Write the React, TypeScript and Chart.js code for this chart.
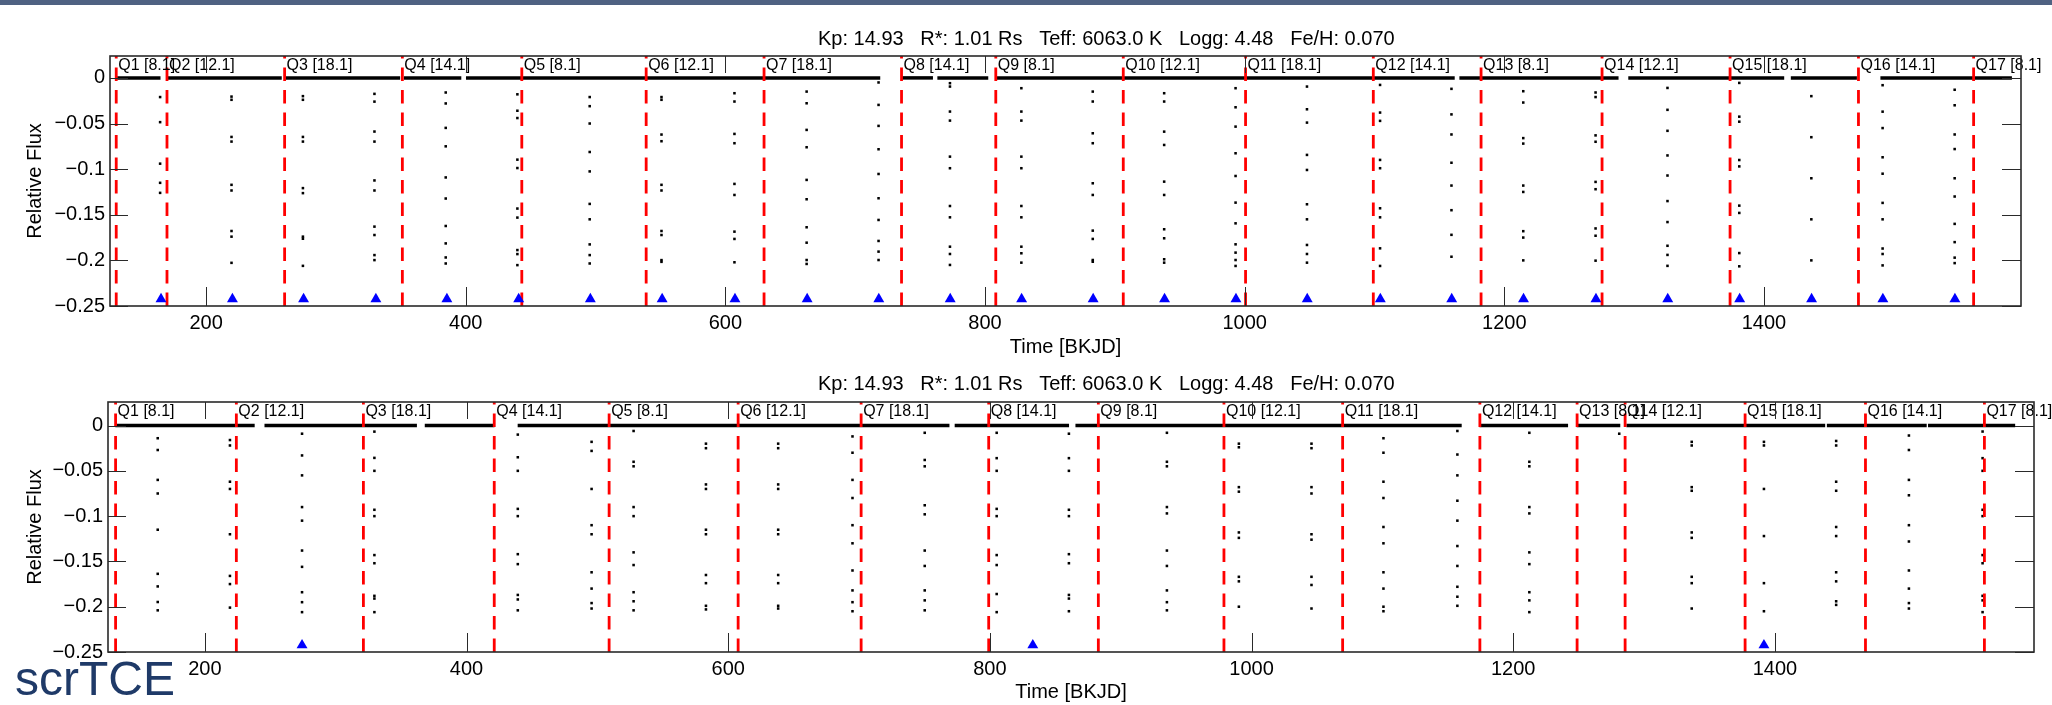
import React, { useEffect, useRef } from 'react';
import { Chart, registerables } from 'chart.js';

Chart.register(...registerables);

// ---------- shared axis data ----------
const X_MIN = 126;
const X_MAX = 1598;
const Y_MIN = -0.25;
const TOP_Y_MAX = 0.024;
const BOTTOM_Y_MAX = 0.026;
const X_TICKS = [200, 400, 600, 800, 1000, 1200, 1400];
const Y_TICKS = [-0.25, -0.2, -0.15, -0.1, -0.05, 0];
const BASELINE_FLUX = 0;
const TRIANGLE_LEVEL = -0.2425;
const TITLE_TEXT = 'Kp: 14.93   R*: 1.01 Rs   Teff: 6063.0 K   Logg: 4.48   Fe/H: 0.070';
const X_TITLE = 'Time [BKJD]';
const Y_TITLE = 'Relative Flux';

const QUARTER_LABELS = [
  'Q1 [8.1]', 'Q2 [12.1]', 'Q3 [18.1]', 'Q4 [14.1]', 'Q5 [8.1]', 'Q6 [12.1]',
  'Q7 [18.1]', 'Q8 [14.1]', 'Q9 [8.1]', 'Q10 [12.1]', 'Q11 [18.1]', 'Q12 [14.1]',
  'Q13 [8.1]', 'Q14 [12.1]', 'Q15 [18.1]', 'Q16 [14.1]', 'Q17 [8.1]',
];

// ---------- top panel data ----------
const TOP_QUARTER_STARTS = [130.8, 169.9, 260.5, 351.2, 443.2, 539.0, 629.8, 735.7, 808.3, 906.5, 1000.7, 1099.1, 1182.1, 1275.3, 1373.9, 1472.8, 1561.5];
const TOP_SEGMENTS = [
  [131.5, 164.9], [169.8, 258.3], [260.3, 349.5], [352.4, 396.6], [400.2, 719.3],
  [735.5, 759.9], [763.3, 802.5], [808.6, 1161.8], [1165.4, 1288.0], [1295.5, 1415.6],
  [1420.7, 1471.6], [1489.7, 1591.0],
];
const TOP_TRIANGLE_TIMES = [165.3, 220.3, 275.1, 330.8, 385.5, 440.8, 496.0, 551.3, 607.4, 663.0, 718.2, 773.2, 828.2, 883.3, 938.3, 993.3, 1048.2, 1104.5, 1159.5, 1214.8, 1270.6, 1325.9, 1381.3, 1436.7, 1491.6, 1547.1];
const TOP_TRANSIT_TIMES = [164.6, 219.6, 274.6, 329.7, 384.6, 439.8, 495.5, 550.8, 607.0, 662.6, 718.0, 773.0, 828.0, 883.0, 938.0, 993.0, 1048.0, 1104.3, 1159.3, 1214.6, 1270.3, 1325.7, 1381.0, 1436.5, 1491.4, 1546.9];
const TOP_TRANSIT_DEPTHS = [
  [-0.021, -0.0485, -0.094, -0.115, -0.126],
  [-0.0205, -0.024, -0.0647, -0.0698, -0.1172, -0.1234, -0.1678, -0.174, -0.2027],
  [-0.02, -0.024, -0.0647, -0.0698, -0.1208, -0.1263, -0.174, -0.1763, -0.206],
  [-0.0175, -0.026, -0.0588, -0.0698, -0.1124, -0.1234, -0.163, -0.1722, -0.1942, -0.1997],
  [-0.016, -0.028, -0.0548, -0.075, -0.1091, -0.1322, -0.1623, -0.1814, -0.1968, -0.2034],
  [-0.018, -0.036, -0.044, -0.0896, -0.0988, -0.1432, -0.1531, -0.1887, -0.1931, -0.2052],
  [-0.021, -0.031, -0.05, -0.0812, -0.1025, -0.1381, -0.155, -0.1825, -0.1942, -0.2034],
  [-0.021, -0.024, -0.0621, -0.0694, -0.1172, -0.1234, -0.1678, -0.1722, -0.1997, -0.2016],
  [-0.0168, -0.0259, -0.0614, -0.0716, -0.1162, -0.1283, -0.1685, -0.1765, -0.2021],
  [-0.015, -0.0278, -0.057, -0.076, -0.1118, -0.133, -0.1637, -0.1806, -0.1996, -0.2039],
  [-0.005, -0.0296, -0.0526, -0.0782, -0.1053, -0.1319, -0.1557, -0.1787, -0.1904, -0.1996],
  [-0.0058, -0.0095, -0.0369, -0.0468, -0.0863, -0.099, -0.1404, -0.1528, -0.185, -0.193, -0.205],
  [-0.0113, -0.0369, -0.0468, -0.0863, -0.099, -0.1404, -0.1528, -0.185, -0.1922, -0.2025],
  [-0.015, -0.0259, -0.0607, -0.0716, -0.1155, -0.1283, -0.1674, -0.1765, -0.1996, -0.2015],
  [-0.0168, -0.0259, -0.0589, -0.0735, -0.1137, -0.1283, -0.1659, -0.1758, -0.1988, -0.2025],
  [-0.0113, -0.0322, -0.0534, -0.0826, -0.1075, -0.1367, -0.1594, -0.1824, -0.1915, -0.1996, -0.2061],
  [-0.0095, -0.0344, -0.049, -0.0844, -0.1009, -0.1385, -0.155, -0.1831, -0.193, -0.2025],
  [-0.0077, -0.038, -0.0471, -0.0899, -0.099, -0.1429, -0.1528, -0.1868, -0.2061],
  [-0.012, -0.04, -0.062, -0.093, -0.118, -0.145, -0.172, -0.196],
  [-0.0146, -0.027, -0.066, -0.072, -0.118, -0.125, -0.168, -0.175, -0.2],
  [-0.016, -0.021, -0.063, -0.07, -0.114, -0.122, -0.165, -0.173, -0.2003],
  [-0.011, -0.035, -0.058, -0.085, -0.107, -0.135, -0.158, -0.184, -0.194, -0.206],
  [-0.0055, -0.0425, -0.048, -0.09, -0.097, -0.14, -0.148, -0.192, -0.2065],
  [-0.02, -0.065, -0.11, -0.155, -0.2],
  [-0.008, -0.037, -0.055, -0.087, -0.105, -0.137, -0.155, -0.187, -0.193, -0.2055],
  [-0.013, -0.03, -0.062, -0.078, -0.11, -0.13, -0.16, -0.18, -0.197, -0.203],
];

// ---------- bottom panel data ----------
const BOTTOM_QUARTER_STARTS = [131.8, 224.1, 321.2, 421.2, 509.0, 607.6, 701.6, 799.1, 882.9, 978.9, 1069.6, 1174.5, 1248.8, 1285.5, 1377.2, 1469.2, 1560.1];
const BOTTOM_SEGMENTS = [
  [131.6, 238.1], [245.6, 362.1], [368.1, 421.4], [439.1, 769.1], [773.1, 860.5],
  [865.4, 1160.6], [1174.2, 1241.9], [1248.5, 1281.8], [1286.5, 1438.4], [1439.7, 1516.0],
  [1517.0, 1583.6],
];
const BOTTOM_TRIANGLE_TIMES = [274.3, 832.8, 1391.6];
const BOTTOM_TRANSIT_TIMES = [164.0, 219.2, 274.3, 329.6, 439.2, 495.6, 527.7, 583.0, 638.2, 695.0, 750.2, 805.2, 860.4, 935.3, 990.3, 1045.8, 1100.8, 1157.3, 1212.3, 1281.0, 1336.4, 1391.6, 1446.8, 1502.4, 1558.7];
const BOTTOM_TRANSIT_DEPTHS = [
  [-0.014, -0.027, -0.06, -0.075, -0.115, -0.1637, -0.1776, -0.1948, -0.204],
  [-0.016, -0.022, -0.062, -0.07, -0.12, -0.166, -0.175, -0.201],
  [-0.009, -0.033, -0.055, -0.09, -0.105, -0.138, -0.156, -0.184, -0.195, -0.206],
  [-0.0067, -0.0357, -0.05, -0.093, -0.1, -0.143, -0.152, -0.188, -0.191, -0.206],
  [-0.01, -0.035, -0.05, -0.092, -0.1, -0.142, -0.153, -0.187, -0.192, -0.204],
  [-0.018, -0.028, -0.07, -0.11, -0.12, -0.162, -0.18, -0.196, -0.202],
  [-0.006, -0.04, -0.045, -0.09, -0.1, -0.14, -0.154, -0.184, -0.194, -0.204],
  [-0.02, -0.025, -0.065, -0.07, -0.115, -0.12, -0.165, -0.174, -0.199, -0.203],
  [-0.02, -0.025, -0.065, -0.07, -0.115, -0.12, -0.165, -0.174, -0.199, -0.202],
  [-0.012, -0.03, -0.06, -0.08, -0.11, -0.13, -0.16, -0.182, -0.195, -0.205],
  [-0.008, -0.038, -0.045, -0.088, -0.098, -0.138, -0.155, -0.182, -0.193, -0.204],
  [-0.008, -0.036, -0.05, -0.092, -0.1, -0.143, -0.154, -0.186, -0.206],
  [-0.009, -0.036, -0.05, -0.093, -0.1, -0.142, -0.152, -0.187, -0.191, -0.205],
  [-0.008, -0.04, -0.045, -0.09, -0.097, -0.138, -0.155, -0.182, -0.195, -0.204],
  [-0.02, -0.024, -0.068, -0.073, -0.118, -0.124, -0.167, -0.172, -0.2],
  [-0.02, -0.025, -0.068, -0.075, -0.12, -0.126, -0.167, -0.176, -0.202],
  [-0.014, -0.03, -0.062, -0.08, -0.112, -0.13, -0.162, -0.18, -0.2, -0.205],
  [-0.006, -0.032, -0.055, -0.083, -0.105, -0.133, -0.155, -0.178, -0.189, -0.199],
  [-0.008, -0.04, -0.045, -0.09, -0.097, -0.14, -0.153, -0.184, -0.193, -0.206],
  [-0.009],
  [-0.018, -0.022, -0.068, -0.072, -0.118, -0.124, -0.167, -0.174, -0.202],
  [-0.018, -0.022, -0.07, -0.122, -0.174, -0.205],
  [-0.017, -0.022, -0.062, -0.072, -0.112, -0.122, -0.162, -0.172, -0.194, -0.198],
  [-0.011, -0.027, -0.06, -0.077, -0.11, -0.128, -0.16, -0.18, -0.196, -0.202],
  [-0.0066, -0.036, -0.05, -0.093, -0.1, -0.143, -0.152, -0.188, -0.193, -0.206],
];

// ---------- layout (pixels) ----------
const FONT_FAMILY = '"Liberation Sans", Arial, Helvetica, sans-serif';

type PanelLayout = {
  top: number;
  height: number;
  yAxisWidth: number;
  rightPad: number;
  xAxisHeight: number;
  xTitlePadBottom: number;
  titleX: number;
  titleBaseline: number;
};

const TOP_LAYOUT: PanelLayout = {
  top: 0, height: 365, yAxisWidth: 110, rightPad: 31, xAxisHeight: 59,
  xTitlePadBottom: 6, titleX: 818, titleBaseline: 45,
};
const BOTTOM_LAYOUT: PanelLayout = {
  top: 346, height: 359, yAxisWidth: 108, rightPad: 18, xAxisHeight: 53,
  xTitlePadBottom: 1, titleX: 818, titleBaseline: 44,
};

const decorPlugin = {
  id: 'panelDecor',
  afterDatasetsDraw(chart: any, _args: any, opts: any) {
    const { ctx, chartArea: a, scales } = chart;
    const xs = scales.x;
    const ys = scales.y;
    ctx.save();
    // quarter labels
    ctx.fillStyle = '#000';
    ctx.font = `16px ${FONT_FAMILY}`;
    ctx.textAlign = 'left';
    ctx.textBaseline = 'alphabetic';
    opts.starts.forEach((q: number, i: number) => {
      ctx.fillText(opts.labels[i], xs.getPixelForValue(q) + 2, a.top + 13.5);
    });
    // inward ticks on all four sides
    ctx.strokeStyle = '#2a2a2a';
    ctx.lineWidth = 1;
    ctx.beginPath();
    xs.ticks.forEach((t: any) => {
      const px = Math.round(xs.getPixelForValue(t.value)) + 0.5;
      ctx.moveTo(px, a.bottom);
      ctx.lineTo(px, a.bottom - 19);
      ctx.moveTo(px, a.top);
      ctx.lineTo(px, a.top + 17);
    });
    ys.ticks.forEach((t: any) => {
      const py = Math.round(ys.getPixelForValue(t.value)) + 0.5;
      ctx.moveTo(a.left, py);
      ctx.lineTo(a.left + 18, py);
      ctx.moveTo(a.right, py);
      ctx.lineTo(a.right - 19, py);
    });
    ctx.stroke();
    // axes box
    ctx.lineWidth = 1.6;
    ctx.strokeRect(a.left, a.top, a.right - a.left, a.bottom - a.top);
    // panel title
    ctx.fillStyle = '#000';
    ctx.font = `20px ${FONT_FAMILY}`;
    ctx.fillText(opts.title, opts.titleX, opts.titleBaseline);
    ctx.restore();
  },
};

type PanelProps = {
  layout: PanelLayout;
  yMax: number;
  segments: number[][];
  quarterStarts: number[];
  transitTimes: number[];
  transitDepths: number[][];
  triangleTimes: number[];
};

function Panel({ layout, yMax, segments, quarterStarts, transitTimes, transitDepths, triangleTimes }: PanelProps) {
  const ref = useRef<HTMLCanvasElement | null>(null);

  useEffect(() => {
    if (!ref.current) return;
    const datasets: any[] = [];

    // triangles (on top)
    datasets.push({
      data: triangleTimes.map((t) => ({ x: t, y: TRIANGLE_LEVEL })),
      pointStyle: 'triangle',
      pointRadius: 6.3,
      pointBackgroundColor: '#0000ff',
      pointBorderWidth: 0,
      showLine: false,
      order: 0,
    });

    // quarter boundaries
    quarterStarts.forEach((q) => {
      datasets.push({
        data: [{ x: q, y: Y_MIN }, { x: q, y: yMax }],
        showLine: true,
        borderColor: '#ff0000',
        borderWidth: 2.8,
        borderDash: [13.5, 9],
        borderDashOffset: 0,
        pointRadius: 0,
        order: 1,
      });
    });

    // transit dots
    const dots: { x: number; y: number }[] = [];
    transitTimes.forEach((t, i) => {
      transitDepths[i].forEach((d) => dots.push({ x: t, y: d }));
    });
    datasets.push({
      data: dots,
      pointStyle: 'rect',
      pointRadius: 1.8,
      pointBackgroundColor: '#000',
      pointBorderWidth: 0,
      showLine: false,
      order: 2,
    });

    // baseline flux band
    segments.forEach(([a, b]) => {
      datasets.push({
        data: [{ x: a, y: BASELINE_FLUX }, { x: b, y: BASELINE_FLUX }],
        showLine: true,
        borderColor: '#000',
        borderWidth: 3.5,
        pointRadius: 0,
        order: 3,
      });
    });

    const chart = new Chart(ref.current, {
      type: 'scatter',
      data: { datasets },
      plugins: [decorPlugin as any],
      options: {
        responsive: false,
        maintainAspectRatio: false,
        animation: false,
        events: [],
        layout: { padding: { left: 0, top: 56, right: layout.rightPad, bottom: 0 } },
        plugins: {
          legend: { display: false },
          tooltip: { enabled: false },
          panelDecor: {
            labels: QUARTER_LABELS,
            starts: quarterStarts,
            title: TITLE_TEXT,
            titleX: layout.titleX,
            titleBaseline: layout.titleBaseline,
          },
        } as any,
        scales: {
          x: {
            type: 'linear',
            min: X_MIN,
            max: X_MAX,
            grid: { display: false, drawTicks: false, tickLength: 0 },
            border: { display: false },
            afterBuildTicks: (s: any) => {
              s.ticks = X_TICKS.map((v) => ({ value: v }));
            },
            afterFit: (s: any) => {
              s.height = layout.xAxisHeight;
            },
            ticks: {
              padding: 5,
              color: '#000',
              font: { size: 20, family: FONT_FAMILY },
              maxRotation: 0,
              autoSkip: false,
              callback: (v: any) => String(v),
            },
            title: {
              display: true,
              text: X_TITLE,
              color: '#000',
              font: { size: 20, family: FONT_FAMILY },
              padding: { top: 0, bottom: layout.xTitlePadBottom },
            },
          },
          y: {
            type: 'linear',
            min: Y_MIN,
            max: yMax,
            grid: { display: false, drawTicks: false, tickLength: 0 },
            border: { display: false },
            afterBuildTicks: (s: any) => {
              s.ticks = Y_TICKS.map((v) => ({ value: v }));
            },
            afterFit: (s: any) => {
              s.width = layout.yAxisWidth;
            },
            ticks: {
              padding: 5,
              color: '#000',
              font: { size: 20, family: FONT_FAMILY },
              callback: (v: any) => (v === 0 ? '0' : '\u2212' + String(Math.abs(v))),
            },
            title: {
              display: true,
              text: Y_TITLE,
              color: '#000',
              font: { size: 20, family: FONT_FAMILY },
              padding: { top: 23, bottom: 0 },
            },
          },
        },
      } as any,
    });
    return () => chart.destroy();
  }, []);

  return (
    <canvas
      ref={ref}
      width={2052}
      height={layout.height}
      style={{ position: 'absolute', left: 0, top: layout.top, width: 2052, height: layout.height }}
    />
  );
}

export default function App() {
  return (
    <div
      style={{
        position: 'absolute',
        left: 0,
        top: 0,
        width: 2052,
        height: 705,
        overflow: 'hidden',
        background: '#ffffff',
        fontFamily: FONT_FAMILY,
      }}
    >
      <Panel
        layout={TOP_LAYOUT}
        yMax={TOP_Y_MAX}
        segments={TOP_SEGMENTS}
        quarterStarts={TOP_QUARTER_STARTS}
        transitTimes={TOP_TRANSIT_TIMES}
        transitDepths={TOP_TRANSIT_DEPTHS}
        triangleTimes={TOP_TRIANGLE_TIMES}
      />
      <Panel
        layout={BOTTOM_LAYOUT}
        yMax={BOTTOM_Y_MAX}
        segments={BOTTOM_SEGMENTS}
        quarterStarts={BOTTOM_QUARTER_STARTS}
        transitTimes={BOTTOM_TRANSIT_TIMES}
        transitDepths={BOTTOM_TRANSIT_DEPTHS}
        triangleTimes={BOTTOM_TRIANGLE_TIMES}
      />
      <div style={{ position: 'absolute', left: 0, top: 0, width: 2052, height: 5, background: '#4f6282' }} />
      <div
        style={{
          position: 'absolute',
          left: 15,
          top: 655,
          fontSize: 48,
          lineHeight: '48px',
          color: '#1f3a68',
          fontFamily: FONT_FAMILY,
        }}
      >
        scrTCE
      </div>
    </div>
  );
}
